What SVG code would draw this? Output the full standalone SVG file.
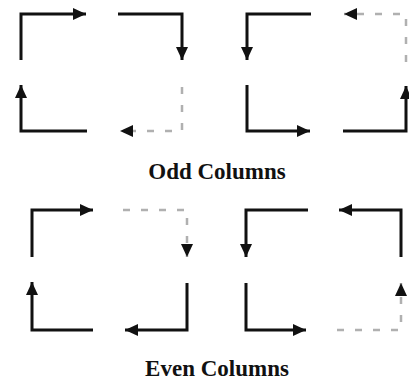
<svg xmlns="http://www.w3.org/2000/svg" width="409" height="381" viewBox="0 0 409 381">
<style>
.s{fill:none;stroke:#111;stroke-width:3;stroke-linejoin:miter;stroke-linecap:butt}
.d{fill:none;stroke:#b0b0b0;stroke-width:2.5;stroke-dasharray:7 11}
.t{font-family:"Liberation Serif","Times New Roman",serif;font-weight:bold;font-size:23px;fill:#111;text-anchor:middle}
</style>
<defs>
<marker id="ah" markerUnits="userSpaceOnUse" markerWidth="14" markerHeight="14" viewBox="0 0 14 14" refX="13" refY="7" orient="auto">
<path d="M0,1 L13,7 L0,13 Z" fill="#111"/>
</marker>
</defs>
<g id="odd-left">
<path class="s" d="M21,60 V14 H86" marker-end="url(#ah)"/>
<path class="s" d="M118,14 H182 V60" marker-end="url(#ah)"/>
<path class="d" d="M182,87 V131 H120" marker-end="url(#ah)"/>
<path class="s" d="M87,131 H21 V85" marker-end="url(#ah)"/>
</g>
<g id="odd-right">
<path class="s" d="M311,14 H247 V60" marker-end="url(#ah)"/>
<path class="d" d="M406,62 V14 H344" marker-end="url(#ah)"/>
<path class="s" d="M247,85 V131 H310" marker-end="url(#ah)"/>
<path class="s" d="M343,131 H406 V86" marker-end="url(#ah)"/>
</g>
<g id="even-left">
<path class="s" d="M32,257 V210 H93" marker-end="url(#ah)"/>
<path class="d" d="M123,210 H187 V257" marker-end="url(#ah)"/>
<path class="s" d="M187,283 V330 H125" marker-end="url(#ah)"/>
<path class="s" d="M93,330 H32 V282" marker-end="url(#ah)"/>
</g>
<g id="even-right">
<path class="s" d="M308,210 H246 V257" marker-end="url(#ah)"/>
<path class="s" d="M401,257 V210 H339" marker-end="url(#ah)"/>
<path class="s" d="M246,283 V330 H306" marker-end="url(#ah)"/>
<path class="d" d="M337,330 H401 V283" marker-end="url(#ah)"/>
</g>
<text class="t" x="217" y="179">Odd Columns</text>
<text class="t" x="217" y="376">Even Columns</text>
</svg>
